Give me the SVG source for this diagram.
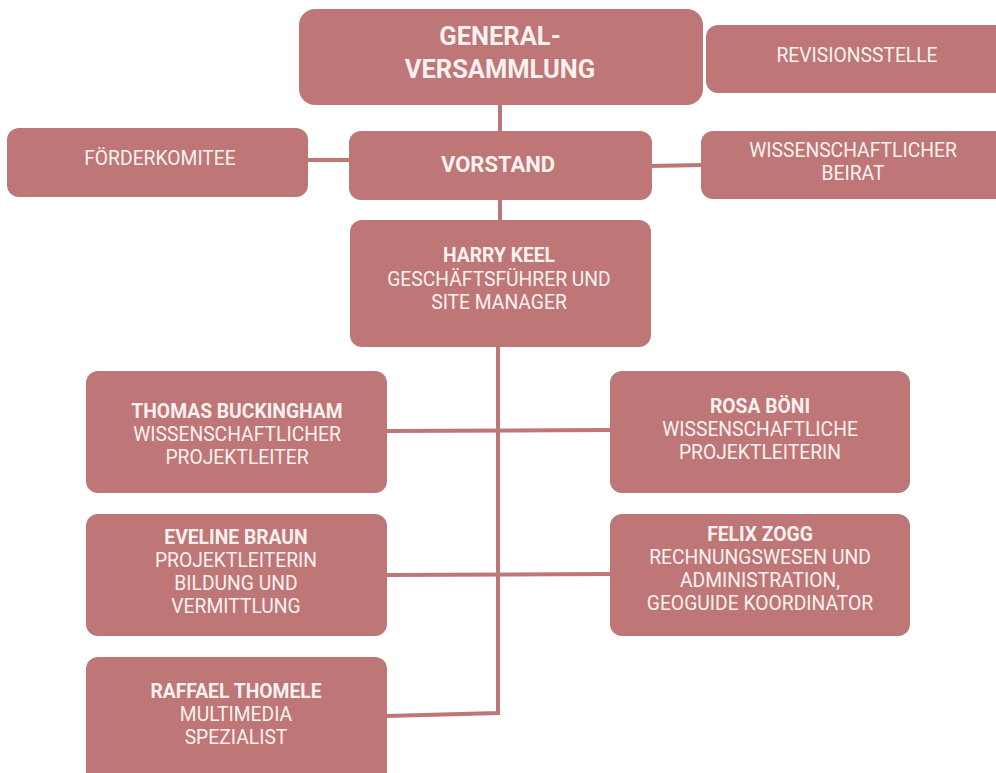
<svg xmlns="http://www.w3.org/2000/svg" width="996" height="773" viewBox="0 0 996 773">
<style>
.box{fill:#BE7676}
.t{font-family:Roboto,"Liberation Sans",sans-serif;fill:#FBF1F1;text-anchor:middle;font-size:19.3px}
.b{font-weight:bold}
.c{stroke:#BE7676;stroke-width:4;fill:none}
</style>
<rect width="996" height="773" fill="#FFFFFF"/>
<g id="connectors">
<line class="c" x1="500" y1="104" x2="500" y2="132"/>
<line class="c" x1="500" y1="199" x2="500" y2="221"/>
<line class="c" x1="306" y1="160" x2="351" y2="160"/>
<line class="c" x1="650" y1="166" x2="703" y2="165"/>
<polyline class="c" points="498,346 498,713 386,716"/>
<line class="c" x1="386" y1="431" x2="611" y2="430"/>
<line class="c" x1="386" y1="575" x2="611" y2="574"/>
</g>
<g id="generalversammlung">
<rect class="box" x="299" y="9" width="404" height="96" rx="16"/>
<text class="t b" x="500" y="45" style="font-size:25.5px">GENERAL-</text>
<text class="t b" x="500" y="78" style="font-size:25.5px">VERSAMMLUNG</text>
</g>
<g id="revisionsstelle">
<rect class="box" x="706" y="25" width="310" height="68" rx="12"/>
<text class="t" x="857" y="62">REVISIONSSTELLE</text>
</g>
<g id="foerderkomitee">
<rect class="box" x="7" y="128" width="301" height="69" rx="12"/>
<text class="t" x="160" y="165">FÖRDERKOMITEE</text>
</g>
<g id="vorstand">
<rect class="box" x="349" y="131" width="303" height="69" rx="12"/>
<text class="t b" x="498" y="172" style="font-size:22px">VORSTAND</text>
</g>
<g id="beirat">
<rect class="box" x="701" y="131" width="310" height="68" rx="12"/>
<text class="t" x="853" y="157">WISSENSCHAFTLICHER</text>
<text class="t" x="853" y="180">BEIRAT</text>
</g>
<g id="harry">
<rect class="box" x="350" y="220" width="301" height="127" rx="12"/>
<text class="t b" x="499" y="262">HARRY KEEL</text>
<text class="t" x="499" y="286">GESCHÄFTSFÜHRER UND</text>
<text class="t" x="499" y="309">SITE MANAGER</text>
</g>
<g id="thomas">
<rect class="box" x="86" y="371" width="301" height="122" rx="12"/>
<text class="t b" x="237" y="418">THOMAS BUCKINGHAM</text>
<text class="t" x="237" y="441">WISSENSCHAFTLICHER</text>
<text class="t" x="237" y="464">PROJEKTLEITER</text>
</g>
<g id="rosa">
<rect class="box" x="610" y="371" width="300" height="122" rx="12"/>
<text class="t b" x="760" y="413">ROSA BÖNI</text>
<text class="t" x="760" y="436">WISSENSCHAFTLICHE</text>
<text class="t" x="760" y="459">PROJEKTLEITERIN</text>
</g>
<g id="eveline">
<rect class="box" x="86" y="514" width="301" height="122" rx="12"/>
<text class="t b" x="236" y="544">EVELINE BRAUN</text>
<text class="t" x="236" y="567">PROJEKTLEITERIN</text>
<text class="t" x="236" y="590">BILDUNG UND</text>
<text class="t" x="236" y="613">VERMITTLUNG</text>
</g>
<g id="felix">
<rect class="box" x="610" y="514" width="300" height="122" rx="12"/>
<text class="t b" x="760" y="541">FELIX ZOGG</text>
<text class="t" x="760" y="564">RECHNUNGSWESEN UND</text>
<text class="t" x="760" y="587">ADMINISTRATION,</text>
<text class="t" x="760" y="610">GEOGUIDE KOORDINATOR</text>
</g>
<g id="raffael">
<rect class="box" x="86" y="657" width="301" height="130" rx="12"/>
<text class="t b" x="236" y="698">RAFFAEL THOMELE</text>
<text class="t" x="236" y="721">MULTIMEDIA</text>
<text class="t" x="236" y="744">SPEZIALIST</text>
</g>
</svg>
